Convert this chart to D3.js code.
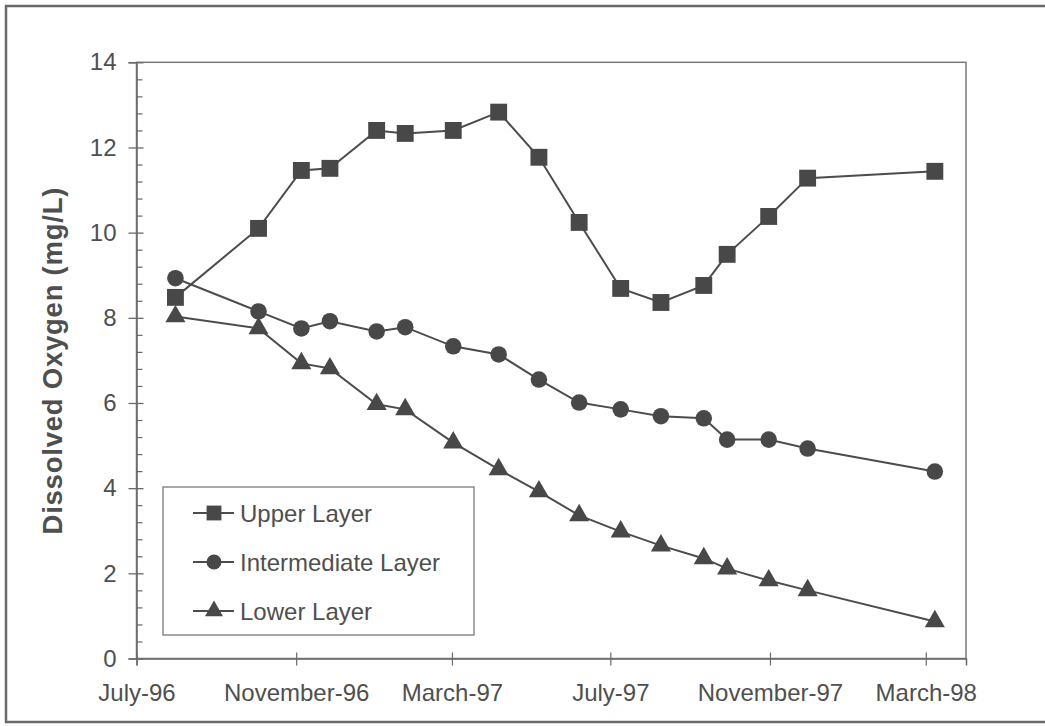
<!DOCTYPE html>
<html>
<head>
<meta charset="utf-8">
<script src="https://cdn.jsdelivr.net/npm/d3@7"></script>
<style>
  html, body { margin: 0; padding: 0; background: #fff; }
  svg { display: block; }
  text { font-family: "Liberation Sans", Arial, Helvetica, sans-serif; fill: #4f4f4f; }
</style>
</head>
<body>
<svg id="chart" width="1045" height="726"></svg>
<script>
// Sampling dates (one per survey)
const sampleDates = [
  "1996-07-31", "1996-10-03", "1996-11-05", "1996-11-27", "1997-01-02",
  "1997-01-24", "1997-03-02", "1997-04-06", "1997-05-07", "1997-06-07",
  "1997-07-09", "1997-08-09", "1997-09-11", "1997-09-29", "1997-10-31",
  "1997-11-30", "1998-03-08"
];

// Dissolved oxygen (mg/L) by layer
const upperLayer = [8.48, 10.10, 11.46, 11.51, 12.40, 12.33, 12.40, 12.83, 11.77, 10.24,
                    8.69, 8.36, 8.76, 9.49, 10.38, 11.28, 11.44];
const intermediateLayer = [8.93, 8.15, 7.75, 7.92, 7.68, 7.78, 7.33, 7.14, 6.55, 6.01,
                           5.85, 5.69, 5.64, 5.14, 5.14, 4.93, 4.39];
const lowerLayer = [8.03, 7.75, 6.93, 6.81, 5.97, 5.85, 5.07, 4.44, 3.92, 3.36,
                    2.98, 2.65, 2.35, 2.11, 1.83, 1.60, 0.87];

const seriesNames = ["Upper Layer", "Intermediate Layer", "Lower Layer"];

// Axis ticks
const xTickDates = ["1996-07-01", "1996-11-01", "1997-03-01", "1997-07-01", "1997-11-01", "1998-03-01"];
const xDomain = ["1996-07-01", "1998-04-01"];
const yMajorTicks = [0, 2, 4, 6, 8, 10, 12, 14];
const yMinorStep = 0.4;
const yLabel = "Dissolved Oxygen (mg/L)";

const parse = d3.utcParse("%Y-%m-%d");
const fmt = d3.utcFormat("%B-%y");

const svg = d3.select("#chart");
const W = 1045, H = 726;
const plot = { left: 136.5, top: 62.3, right: 966, bottom: 658.5 };
const ink = "#4c4c4c";

// outer frame
svg.append("rect")
  .attr("x", 6).attr("y", 6).attr("width", W + 10).attr("height", 716)
  .attr("fill", "#fff").attr("stroke", "#6a6a6a").attr("stroke-width", 2.5);

const x = d3.scaleUtc().domain(xDomain.map(parse)).range([plot.left, plot.right]);
const y = d3.scaleLinear().domain([0, 14]).range([plot.bottom, plot.top]);

// plot frame
svg.append("rect")
  .attr("x", plot.left).attr("y", plot.top)
  .attr("width", plot.right - plot.left).attr("height", plot.bottom - plot.top)
  .attr("fill", "none").attr("stroke", "#7a7a7a").attr("stroke-width", 1.5);

// y axis: major ticks cross the axis, minor ticks point inward
const yAxis = svg.append("g")
  .attr("transform", `translate(${plot.left},0)`)
  .call(d3.axisLeft(y).tickValues(yMajorTicks).tickSize(8).tickPadding(12).tickFormat(d3.format("d")));
yAxis.select(".domain").attr("stroke", "#6a6a6a").attr("stroke-width", 1.5);
yAxis.selectAll(".tick line").attr("x1", -8).attr("x2", 7).attr("stroke", "#6a6a6a").attr("stroke-width", 1.3);
yAxis.selectAll(".tick text").attr("font-size", 24).attr("fill", "#4f4f4f")
  .style("font-family", '"Liberation Sans", Arial, sans-serif');

const minorVals = d3.range(0, 14.0001, yMinorStep).filter(v => Math.abs(v / 2 - Math.round(v / 2)) > 1e-6);
const yMinor = svg.append("g")
  .attr("transform", `translate(${plot.left},0)`)
  .call(d3.axisRight(y).tickValues(minorVals).tickSize(6).tickFormat(""));
yMinor.select(".domain").remove();
yMinor.selectAll(".tick line").attr("stroke", "#6a6a6a").attr("stroke-width", 1.2);

// x axis
const xAxis = svg.append("g")
  .attr("transform", `translate(0,${plot.bottom})`)
  .call(d3.axisBottom(x).tickValues(xTickDates.map(parse)).tickSize(7).tickPadding(18).tickFormat(fmt));
xAxis.select(".domain").attr("stroke", "#6a6a6a").attr("stroke-width", 1.5);
xAxis.selectAll(".tick line").attr("y1", -6).attr("y2", 7).attr("stroke", "#6a6a6a").attr("stroke-width", 1.2);
xAxis.selectAll(".tick text").attr("font-size", 24).attr("fill", "#4f4f4f")
  .style("font-family", '"Liberation Sans", Arial, sans-serif');

// y axis title
svg.append("text")
  .attr("transform", `translate(62,361) rotate(-90)`)
  .attr("text-anchor", "middle")
  .attr("font-size", 27.5).attr("font-weight", "bold")
  .attr("textLength", 347).attr("lengthAdjust", "spacing")
  .text(yLabel);

// series
const dates = sampleDates.map(parse);
const series = [
  { name: seriesNames[0], values: upperLayer, symbol: d3.symbolSquare, size: 285 },
  { name: seriesNames[1], values: intermediateLayer, symbol: d3.symbolCircle, size: 215 },
  { name: seriesNames[2], values: lowerLayer, symbol: d3.symbolTriangle, size: 175 }
];

const line = d3.line().x(d => x(d[0])).y(d => y(d[1]));

series.forEach(s => {
  const pts = dates.map((d, i) => [d, s.values[i]]);
  svg.append("path")
    .attr("d", line(pts))
    .attr("fill", "none").attr("stroke", ink).attr("stroke-width", 2);
  svg.append("g").selectAll("path")
    .data(pts).join("path")
    .attr("transform", d => `translate(${x(d[0])},${y(d[1])})`)
    .attr("d", d3.symbol(s.symbol, s.size))
    .attr("fill", "#484848");
});

// legend
const legend = svg.append("g");
legend.append("rect")
  .attr("x", 163).attr("y", 487).attr("width", 311).attr("height", 148)
  .attr("fill", "#fff").attr("stroke", "#7a7a7a").attr("stroke-width", 1.3);

const legendSizes = [220, 175, 140];
series.forEach((s, i) => {
  const cy = 513 + i * 49;
  legend.append("line")
    .attr("x1", 193).attr("x2", 234).attr("y1", cy).attr("y2", cy)
    .attr("stroke", ink).attr("stroke-width", 2);
  legend.append("path")
    .attr("transform", `translate(214,${cy})`)
    .attr("d", d3.symbol(s.symbol, legendSizes[i]))
    .attr("fill", "#484848");
  legend.append("text")
    .attr("x", 240).attr("y", cy + 8.5)
    .attr("font-size", 24)
    .text(s.name);
});
</script>
</body>
</html>
